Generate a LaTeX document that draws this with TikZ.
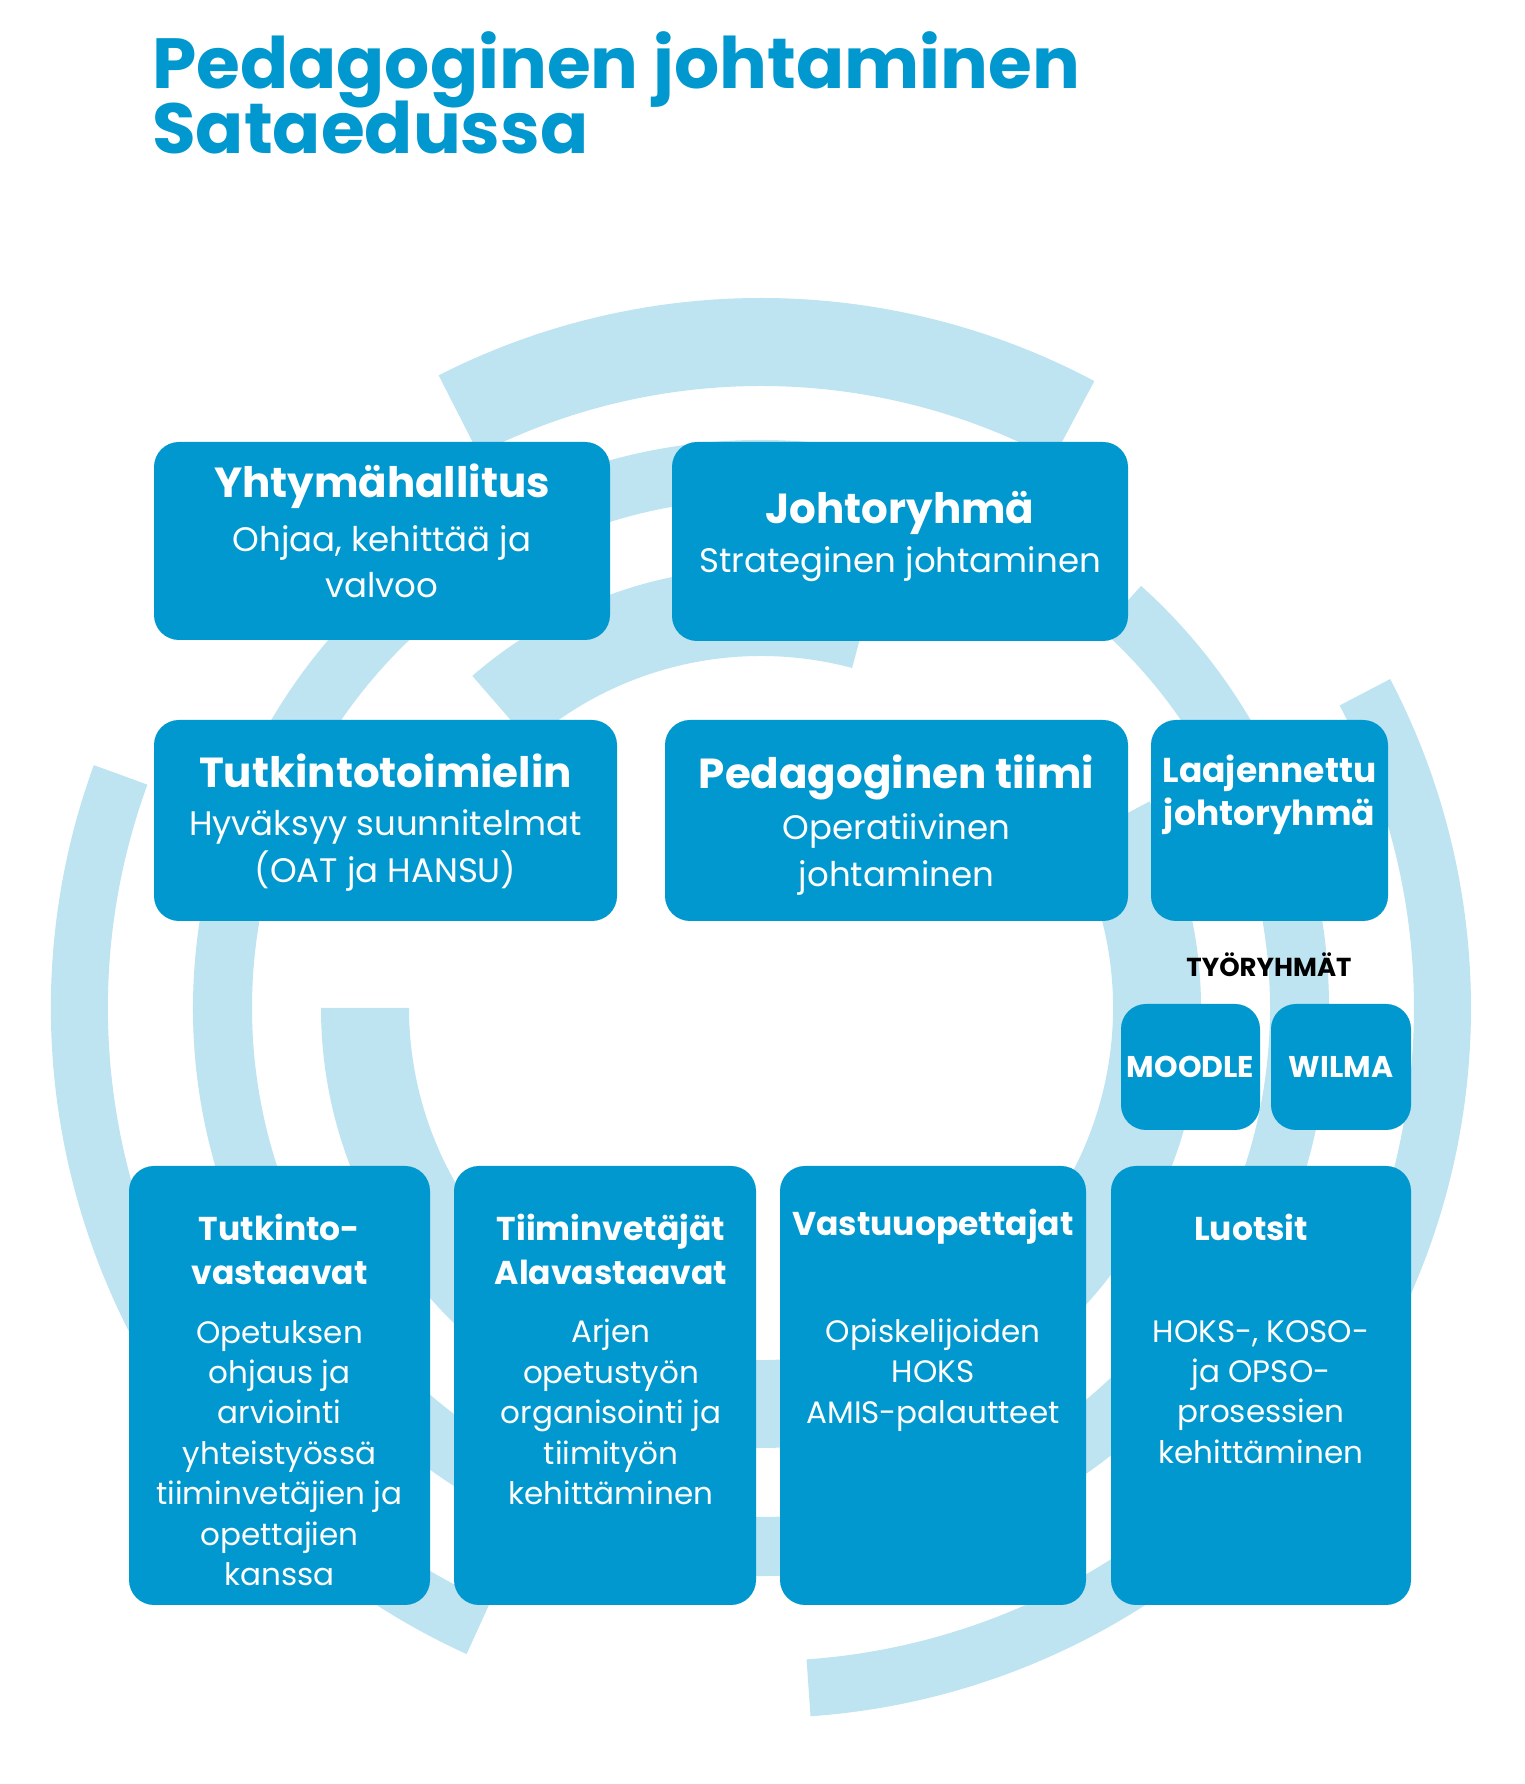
\documentclass[tikz,border=0pt]{standalone}
\usepackage{fontspec}
\setmainfont{Poppins}
\definecolor{boxc}{RGB}{0,152,206}
\definecolor{ringc}{RGB}{190,227,241}
\newcommand{\ringpiece}[4]{\fill[ringc, shift={(761,776)}] (#1:#3pt) arc[start angle=#1, end angle=#2, radius=#3pt] -- (#2:#4pt) arc[start angle=#2, end angle=#1, radius=#4pt] -- cycle;}
\tikzset{
  box/.style={fill=boxc, rounded corners=25pt, inner sep=0pt, draw=none},
  txt/.style={text=white, align=center, inner sep=0pt},
  tophead/.style={txt, font=\fontsize{42}{48}\selectfont\bfseries},
  topbody/.style={txt, font=\fontsize{34}{46.5}\selectfont},
  bothead/.style={txt, font=\fontsize{33}{44}\selectfont\bfseries},
  botbody/.style={txt, font=\fontsize{31}{40.4}\selectfont},
  smallbox/.style={txt, font=\fontsize{30}{34}\selectfont\bfseries},
  titlet/.style={text=boxc, inner sep=0pt, anchor=base west, font=\fontsize{71}{65}\selectfont\bfseries}
}
\begin{document}
\begin{tikzpicture}[x=1pt,y=1pt]
\useasboundingbox (0,0) rectangle (1524,1784);
\fill[white] (0,0) rectangle (1524,1784);
% rings
\ringpiece{62}{117}{710}{622}
\ringpiece{-86}{27.6}{710}{653}
\ringpiece{160}{245.5}{710}{653}
\ringpiece{-275}{48}{568}{509}
\ringpiece{75}{131}{440}{352}
\ringpiece{-180}{28}{440}{352}
% title
\node[titlet] (t1) at (152,1695) {Pedagoginen johtaminen};
\node[titlet] (t2) at (152,1630) {Sataedussa};
% boxes
\node[box, minimum width=456pt, minimum height=198pt] (yht) at (382,1243) {};
\node[box, minimum width=456pt, minimum height=199pt] (joh) at (900,1242.5) {};
\node[box, minimum width=463pt, minimum height=201pt] (tut) at (385.5,963.5) {};
\node[box, minimum width=463pt, minimum height=201pt] (ped) at (896.5,963.5) {};
\node[box, minimum width=237pt, minimum height=201pt] (laa) at (1269.5,963.5) {};
\node[box, minimum width=139pt, minimum height=126pt] (moo) at (1190.5,717) {};
\node[box, minimum width=140pt, minimum height=126pt] (wil) at (1341,717) {};
\node[box, minimum width=301pt, minimum height=439pt] (b1) at (279.5,398.5) {};
\node[box, minimum width=302pt, minimum height=439pt] (b2) at (605,398.5) {};
\node[box, minimum width=306pt, minimum height=439pt] (b3) at (933,398.5) {};
\node[box, minimum width=300pt, minimum height=439pt] (b4) at (1261,398.5) {};
% texts
\node[tophead] (yhth) at (382,1298) {Yhtymähallitus};
\node[topbody] (yhtb) at (382,1222.5) {Ohjaa, kehittää ja\\valvoo};
\node[tophead] (johh) at (900,1271) {Johtoryhmä};
\node[topbody] (johb) at (900,1219.5) {Strateginen johtaminen};
\node[tophead] (tuth) at (385.5,1013) {Tutkintotoimielin};
\node[topbody] (tutb) at (385.5,933.6) {Hyväksyy suunnitelmat\\(OAT ja HANSU)};
\node[tophead] (pedh) at (896.5,1006.6) {Pedagoginen tiimi};
\node[topbody] (pedb) at (896.5,929.5) {Operatiivinen\\johtaminen};
\node[txt, font=\fontsize{34.5}{43}\selectfont\bfseries] (laah) at (1269.5,989.5) {Laajennettu\\johtoryhmä};
\node[inner sep=0pt, font=\fontsize{26}{30}\selectfont\bfseries] (tyo) at (1269,819) {TYÖRYHMÄT};
\node[smallbox] (moot) at (moo) {MOODLE};
\node[smallbox] (wilt) at (wil) {WILMA};
\node[bothead] (b1h) at (279.5,535) {Tutkinto-\\vastaavat};
\node[botbody] (b1b) at (279.5,331) {Opetuksen\\ohjaus ja\\arviointi\\yhteistyössä\\tiiminvetäjien ja\\opettajien\\kanssa};
\node[bothead] (b2h) at (611,535) {Tiiminvetäjät\\Alavastaavat};
\node[botbody] (b2b) at (611,372) {Arjen\\opetustyön\\organisointi ja\\tiimityön\\kehittäminen};
\node[bothead] (b3h) at (933,557) {Vastuuopettajat};
\node[botbody] (b3b) at (933,409) {Opiskelijoiden\\HOKS\\AMIS-palautteet};
\node[bothead] (b4h) at (1251,557) {Luotsit};
\node[botbody] (b4b) at (1261,392) {HOKS-, KOSO-\\ja OPSO-\\prosessien\\kehittäminen};
\end{tikzpicture}
\end{document}
